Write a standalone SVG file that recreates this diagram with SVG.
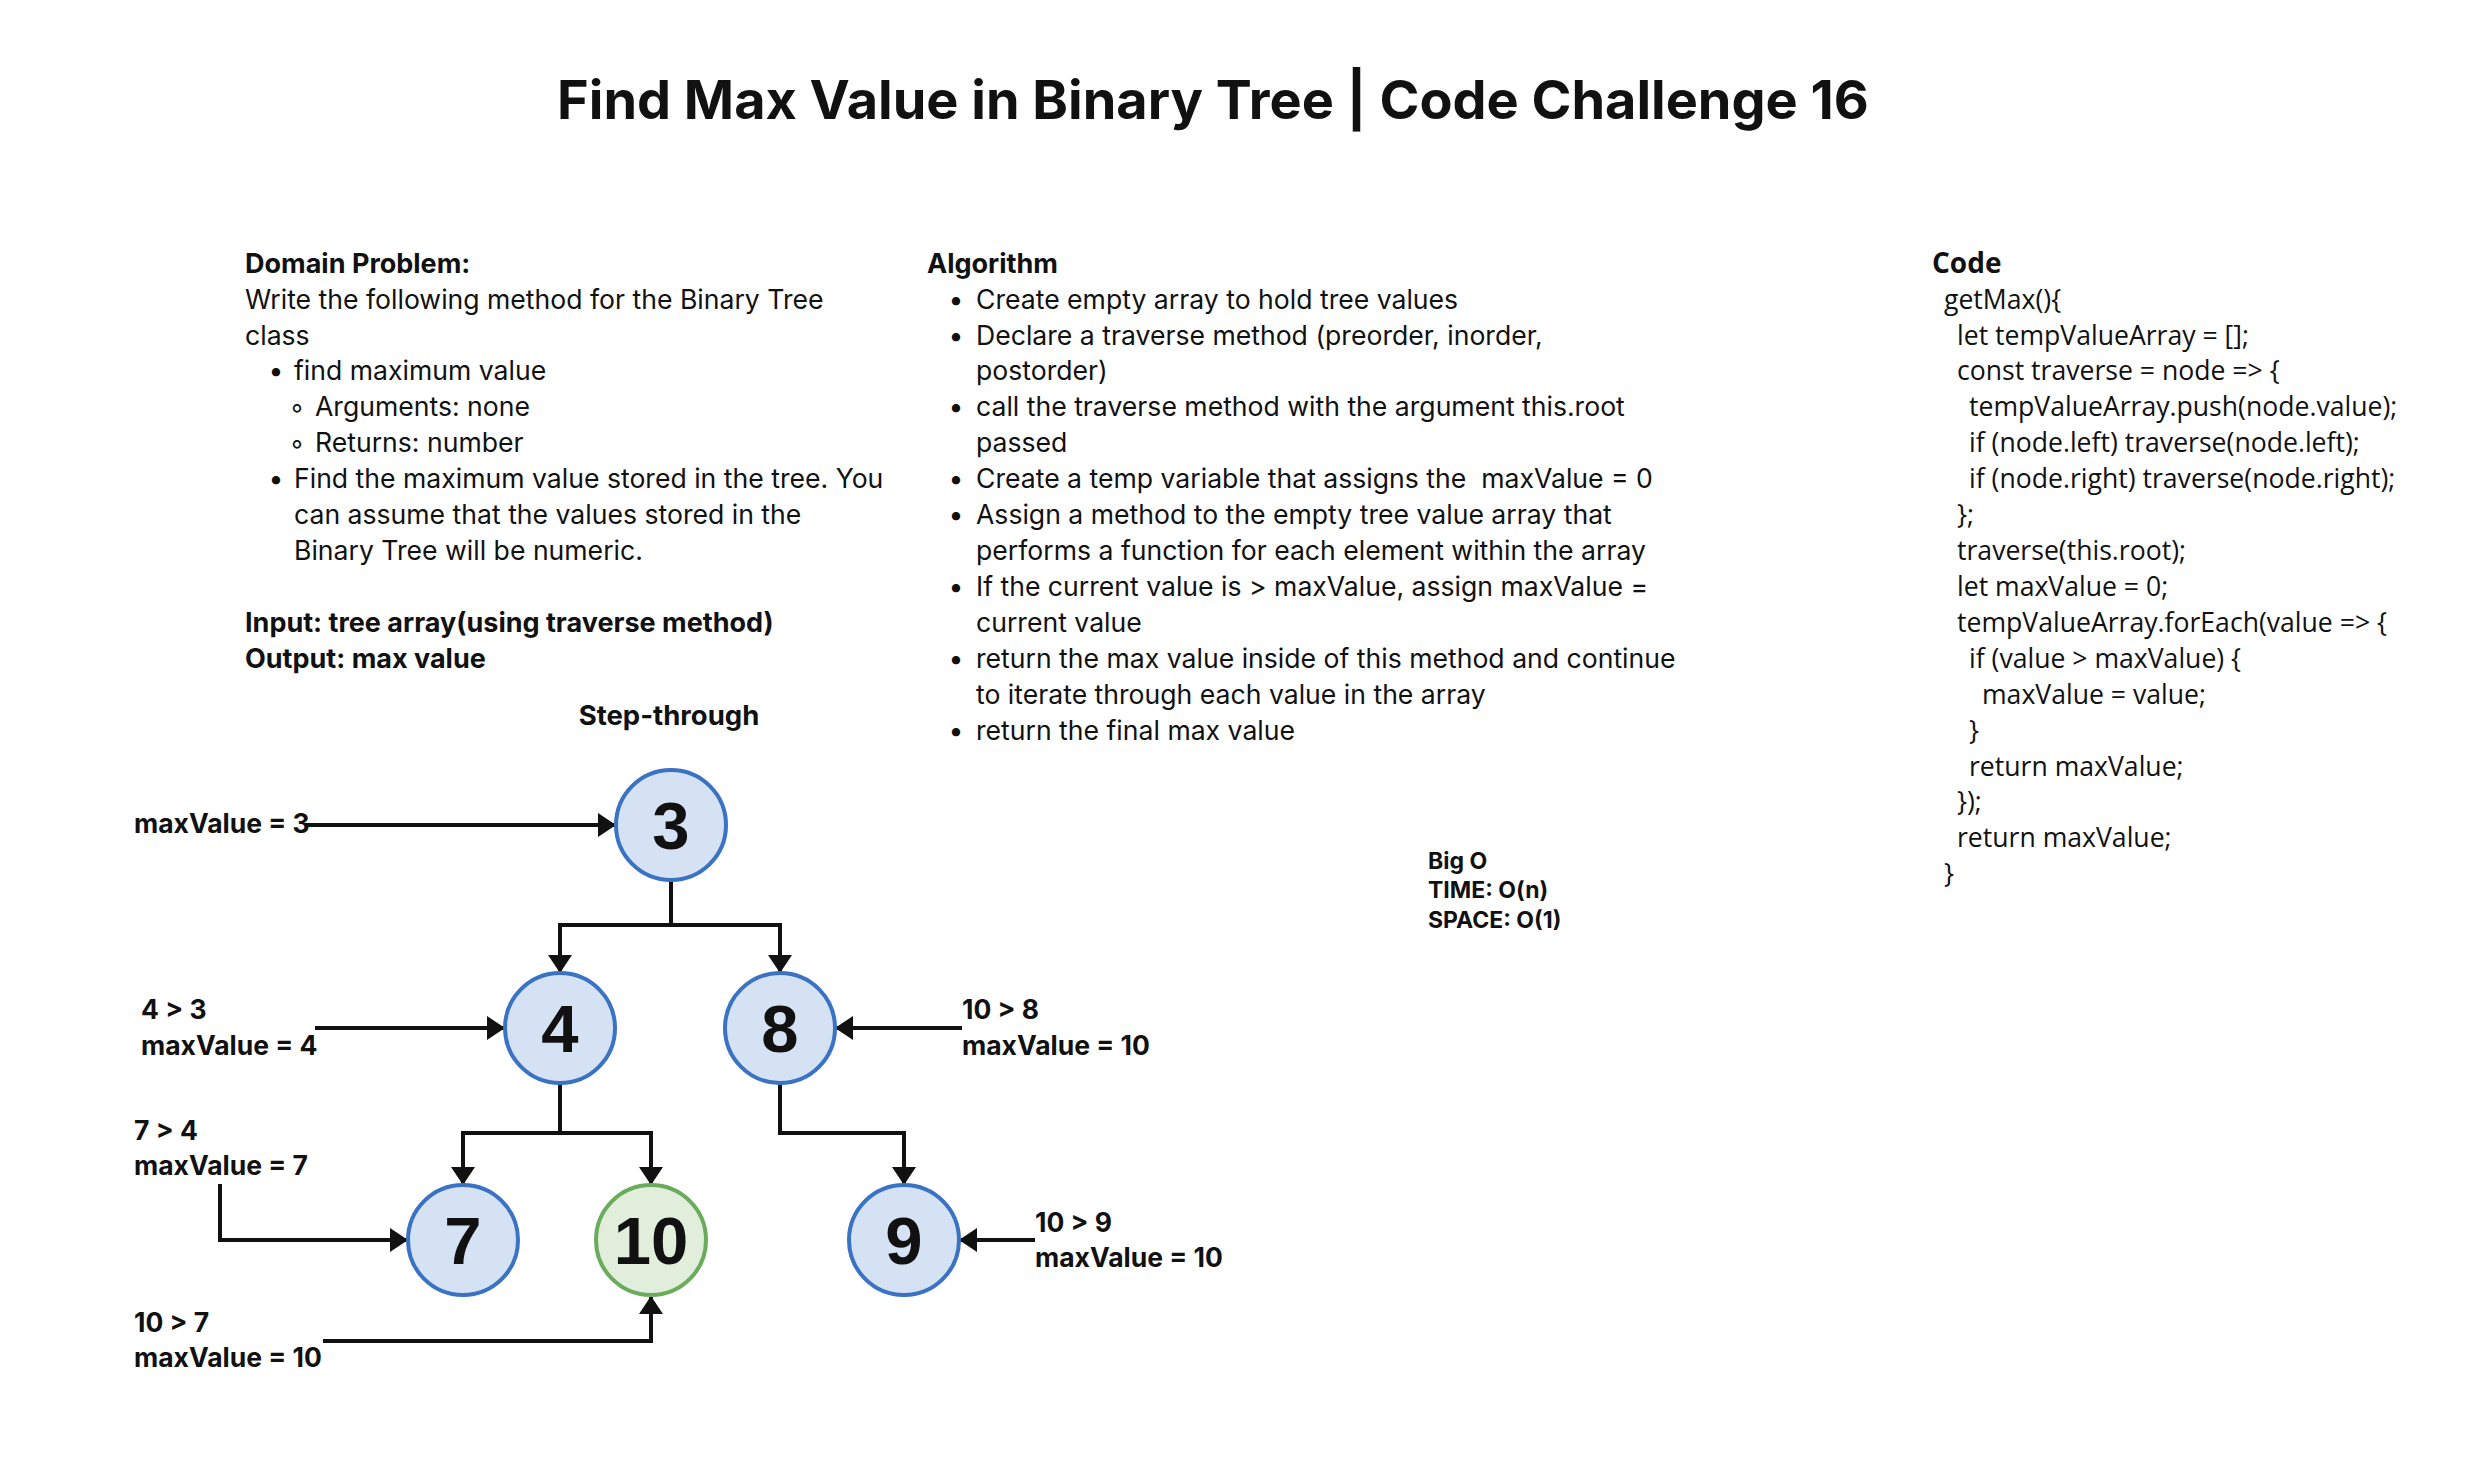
<svg xmlns="http://www.w3.org/2000/svg" width="2492" height="1468" viewBox="0 0 2492 1468">
<style>
  .t{font-family:Inter,"Noto Sans",sans-serif;font-size:26.6px;fill:#111}
  .b{font-weight:700;font-size:27px}
  .code{font-family:"Open Sans","Noto Sans",sans-serif;font-size:26.6px;fill:#111}
  .cb{font-weight:700;font-size:28px}
  .lab{font-family:Inter,"Noto Sans",sans-serif;font-size:26.5px;font-weight:700;fill:#111}
  .num{font-family:"Liberation Sans",Arial,sans-serif;font-size:67px;font-weight:700;fill:#111;text-anchor:middle}
  .nb{fill:#d5e2f3;stroke:#3a72c4;stroke-width:4}
  .ng{fill:#e0eedb;stroke:#6aac5c;stroke-width:4}
  .c{fill:none;stroke:#111;stroke-width:4;stroke-linejoin:miter}
</style>
<defs>
  <marker id="ah" markerUnits="userSpaceOnUse" markerWidth="18" markerHeight="24" viewBox="0 0 18 24" refX="17" refY="12" orient="auto">
    <path d="M0,0 L18,12 L0,24 z" fill="#111"/>
  </marker>
</defs>
<rect width="2492" height="1468" fill="#fff"/>

<g id="title">
  <text x="1213" y="119" class="t" style="font-size:54px;font-weight:700" text-anchor="middle">Find Max Value in Binary Tree | Code Challenge 16</text>
</g>

<g id="domain" class="t">
  <text x="245" y="273" class="b">Domain Problem:</text>
  <text x="245" y="309">Write the following method for the Binary Tree</text>
  <text x="245" y="345">class</text>
  <text x="276" y="380" text-anchor="middle">•</text>
  <text x="294" y="380">find maximum value</text>
  <text x="297" y="416" text-anchor="middle">◦</text>
  <text x="315" y="416">Arguments: none</text>
  <text x="297" y="452" text-anchor="middle">◦</text>
  <text x="315" y="452">Returns: number</text>
  <text x="276" y="488" text-anchor="middle">•</text>
  <text x="294" y="488">Find the maximum value stored in the tree. You</text>
  <text x="294" y="524">can assume that the values stored in the</text>
  <text x="294" y="560">Binary Tree will be numeric.</text>
  <text x="245" y="632" class="b">Input: tree array(using traverse method)</text>
  <text x="245" y="668" class="b">Output: max value</text>
</g>

<g id="algorithm" class="t">
  <text x="927" y="273" class="b">Algorithm</text>
  <text x="956" y="309" text-anchor="middle">•</text>
  <text x="976" y="309">Create empty array to hold tree values</text>
  <text x="956" y="345" text-anchor="middle">•</text>
  <text x="976" y="345">Declare a traverse method (preorder, inorder,</text>
  <text x="976" y="380">postorder)</text>
  <text x="956" y="416" text-anchor="middle">•</text>
  <text x="976" y="416">call the traverse method with the argument this.root</text>
  <text x="976" y="452">passed</text>
  <text x="956" y="488" text-anchor="middle">•</text>
  <text x="976" y="488" xml:space="preserve">Create a temp variable that assigns the  maxValue = 0</text>
  <text x="956" y="524" text-anchor="middle">•</text>
  <text x="976" y="524">Assign a method to the empty tree value array that</text>
  <text x="976" y="560">performs a function for each element within the array</text>
  <text x="956" y="596" text-anchor="middle">•</text>
  <text x="976" y="596">If the current value is &gt; maxValue, assign maxValue =</text>
  <text x="976" y="632">current value</text>
  <text x="956" y="668" text-anchor="middle">•</text>
  <text x="976" y="668">return the max value inside of this method and continue</text>
  <text x="976" y="704">to iterate through each value in the array</text>
  <text x="956" y="740" text-anchor="middle">•</text>
  <text x="976" y="740">return the final max value</text>
</g>

<g id="code" class="code">
  <text x="1932" y="273" class="cb">Code</text>
  <text x="1944" y="309">getMax(){</text>
  <text x="1957" y="345">let tempValueArray = [];</text>
  <text x="1957" y="380">const traverse = node =&gt; {</text>
  <text x="1969" y="416">tempValueArray.push(node.value);</text>
  <text x="1969" y="452">if (node.left) traverse(node.left);</text>
  <text x="1969" y="488">if (node.right) traverse(node.right);</text>
  <text x="1957" y="524">};</text>
  <text x="1957" y="560">traverse(this.root);</text>
  <text x="1957" y="596">let maxValue = 0;</text>
  <text x="1957" y="632">tempValueArray.forEach(value =&gt; {</text>
  <text x="1969" y="668">if (value &gt; maxValue) {</text>
  <text x="1982" y="704">maxValue = value;</text>
  <text x="1969" y="740">}</text>
  <text x="1969" y="776">return maxValue;</text>
  <text x="1957" y="811">});</text>
  <text x="1957" y="847">return maxValue;</text>
  <text x="1944" y="883">}</text>
</g>

<g id="bigo" class="t" style="font-size:23px;font-weight:700">
  <text x="1428" y="869">Big O</text>
  <text x="1428" y="898">TIME: O(n)</text>
  <text x="1428" y="928">SPACE: O(1)</text>
</g>

<g id="step-through">
  <text x="669" y="725" class="lab" style="font-size:27.5px" text-anchor="middle">Step-through</text>
</g>

<g id="connectors">
  <path class="c" d="M671,880 V925 H560 V972" marker-end="url(#ah)"/>
  <path class="c" d="M671,925 H780 V972" marker-end="url(#ah)"/>
  <path class="c" d="M560,1083 V1133 H463 V1184" marker-end="url(#ah)"/>
  <path class="c" d="M560,1133 H651 V1184" marker-end="url(#ah)"/>
  <path class="c" d="M780,1083 V1133 H904 V1184" marker-end="url(#ah)"/>
  <path class="c" d="M306,825 H615" marker-end="url(#ah)"/>
  <path class="c" d="M315,1028 H504" marker-end="url(#ah)"/>
  <path class="c" d="M220,1184 V1240 H407" marker-end="url(#ah)"/>
  <path class="c" d="M323,1341 H651 V1297" marker-end="url(#ah)"/>
  <path class="c" d="M962,1028 H836" marker-end="url(#ah)"/>
  <path class="c" d="M1035,1240 H960" marker-end="url(#ah)"/>
</g>

<g id="node-3"><circle class="nb" cx="671" cy="825" r="55"/><text class="num" x="671" y="849">3</text></g>
<g id="node-4"><circle class="nb" cx="560" cy="1028" r="55"/><text class="num" x="560" y="1052">4</text></g>
<g id="node-8"><circle class="nb" cx="780" cy="1028" r="55"/><text class="num" x="780" y="1052">8</text></g>
<g id="node-7"><circle class="nb" cx="463" cy="1240" r="55"/><text class="num" x="463" y="1264">7</text></g>
<g id="node-10"><circle class="ng" cx="651" cy="1240" r="55"/><text class="num" x="651" y="1264">10</text></g>
<g id="node-9"><circle class="nb" cx="904" cy="1240" r="55"/><text class="num" x="904" y="1264">9</text></g>

<g id="labels" class="lab">
  <text x="134" y="833">maxValue = 3</text>
  <text x="141" y="1019">4 &gt; 3</text>
  <text x="141" y="1055">maxValue = 4</text>
  <text x="134" y="1140">7 &gt; 4</text>
  <text x="134" y="1175">maxValue = 7</text>
  <text x="134" y="1332">10 &gt; 7</text>
  <text x="134" y="1367">maxValue = 10</text>
  <text x="962" y="1019">10 &gt; 8</text>
  <text x="962" y="1055">maxValue = 10</text>
  <text x="1035" y="1232">10 &gt; 9</text>
  <text x="1035" y="1267">maxValue = 10</text>
</g>
</svg>
